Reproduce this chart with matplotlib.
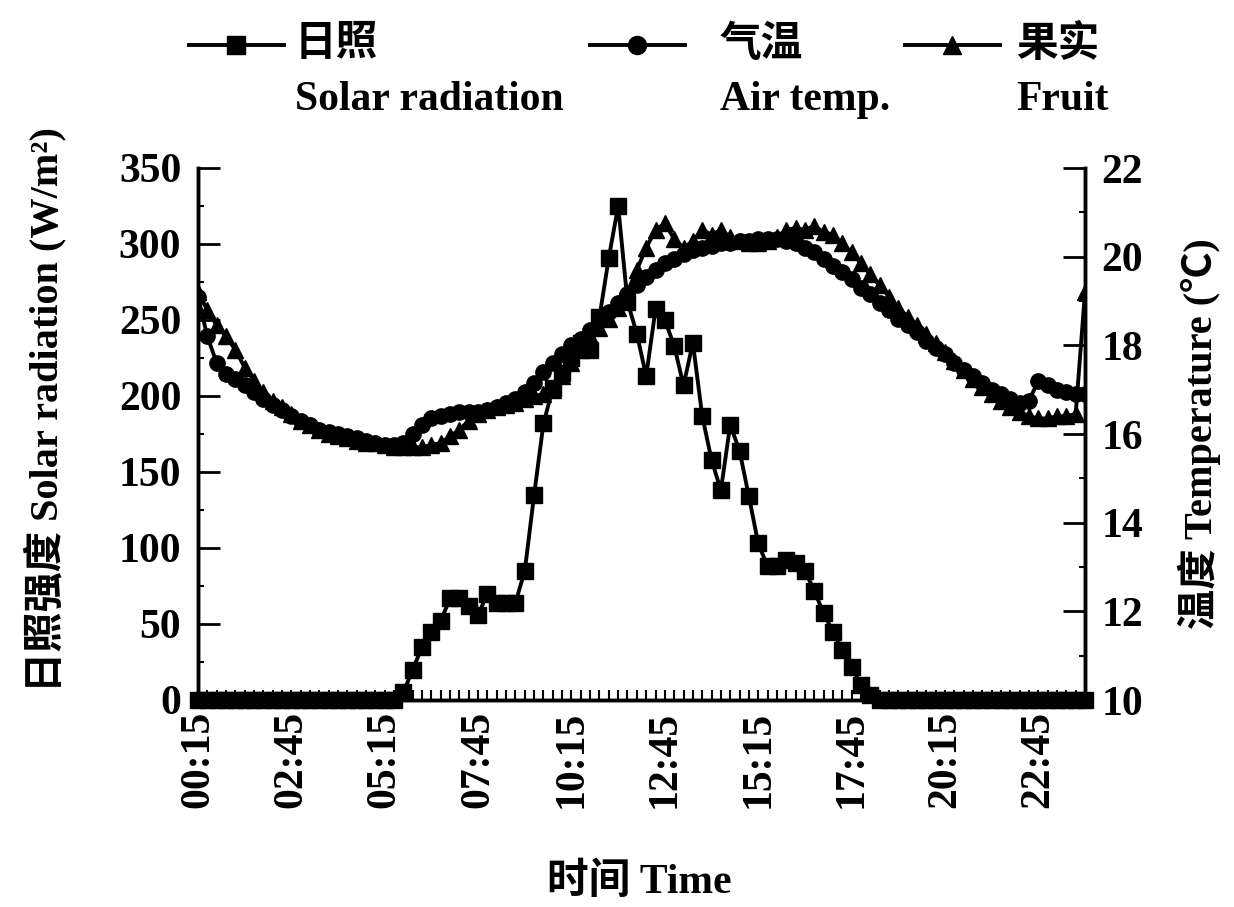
import matplotlib
matplotlib.use("Agg")
import matplotlib.pyplot as plt
from matplotlib.lines import Line2D
from matplotlib.ticker import MultipleLocator
import numpy as np

plt.rcParams['font.family'] = ['Liberation Serif', 'Noto Sans CJK SC']
plt.rcParams['font.weight'] = 'bold'
plt.rcParams['axes.labelweight'] = 'bold'

# 15-min readings from 00:15 to 24:00
tick_pos = [0, 10, 20, 30, 40, 50, 60, 70, 80, 90]
tick_labels = ["00:15", "02:45", "05:15", "07:45", "10:15",
               "12:45", "15:15", "17:45", "20:15", "22:45"]

solar = [0, 0, 0, 0, 0, 0, 0, 0, 0, 0,
         0, 0, 0, 0, 0, 0, 0, 0, 0, 0,
         0, 0, 5, 20, 35, 45, 52, 67, 67, 62,
         56, 70, 64, 64, 64, 85, 135, 182, 205, 215,
         225, 235, 230, 252, 291, 325, 262, 241, 213, 257,
         250, 233, 207, 235, 187, 158, 138, 181, 164, 134,
         103, 88, 88, 92, 90, 85, 72, 57, 45, 33,
         22, 10, 3, 0, 0, 0, 0, 0, 0, 0,
         0, 0, 0, 0, 0, 0, 0, 0, 0, 0,
         0, 0, 0, 0, 0, 0]

air_temp = [19.1, 18.2, 17.6, 17.35, 17.25, 17.1, 16.95, 16.8, 16.65, 16.55,
            16.4, 16.3, 16.2, 16.1, 16.05, 16.0, 15.95, 15.9, 15.85, 15.8,
            15.75, 15.75, 15.8, 16.0, 16.2, 16.35, 16.4, 16.45, 16.5, 16.5,
            16.5, 16.55, 16.6, 16.7, 16.8, 16.95, 17.15, 17.4, 17.6, 17.8,
            18.0, 18.15, 18.35, 18.55, 18.75, 18.95, 19.15, 19.35, 19.55, 19.7,
            19.85, 19.95, 20.05, 20.15, 20.2, 20.25, 20.3, 20.3, 20.35, 20.35,
            20.4, 20.4, 20.4, 20.35, 20.3, 20.2, 20.1, 19.95, 19.8, 19.65,
            19.5, 19.3, 19.15, 18.95, 18.8, 18.6, 18.45, 18.3, 18.1, 17.95,
            17.8, 17.6, 17.45, 17.3, 17.15, 17.0, 16.9, 16.8, 16.7, 16.75,
            17.2, 17.1, 17.0, 16.95, 16.9, 16.9]

fruit_temp = [19.2, 18.8, 18.45, 18.2, 17.9, 17.5, 17.2, 16.95, 16.75, 16.6,
              16.45, 16.3, 16.2, 16.1, 16.0, 15.95, 15.9, 15.85, 15.8, 15.8,
              15.75, 15.7, 15.7, 15.7, 15.7, 15.75, 15.8, 15.95, 16.1, 16.3,
              16.45, 16.55, 16.6, 16.65, 16.7, 16.8, 16.85, 16.9, 17.0, 17.3,
              17.6, 17.9, 18.2, 18.4, 18.6, 18.85, 19.2, 19.7, 20.2, 20.6,
              20.75, 20.4, 20.2, 20.35, 20.6, 20.5, 20.6, 20.45, 20.35, 20.3,
              20.3, 20.35, 20.45, 20.6, 20.65, 20.6, 20.7, 20.55, 20.5, 20.3,
              20.1, 19.85, 19.6, 19.35, 19.1, 18.85, 18.65, 18.45, 18.25, 18.05,
              17.85, 17.65, 17.45, 17.25, 17.05, 16.9, 16.75, 16.6, 16.5, 16.4,
              16.35, 16.35, 16.4, 16.4, 16.45, 19.2]

FS = 30
LW = 2.8
W, H = 1234, 907
fig = plt.figure(figsize=(W / 100, H / 100), dpi=100)
ax = fig.add_axes([198 / W, 1 - 700 / H, (1085 - 198) / W, (700 - 168) / H])
x = np.arange(len(solar))

ax.plot(x, solar, color='k', lw=LW, marker='s', ms=11, clip_on=False, zorder=3)
ax.set_xlim(0, len(solar) - 1)
ax.set_ylim(0, 350)
ax.yaxis.set_major_locator(MultipleLocator(50))
ax.yaxis.set_minor_locator(MultipleLocator(25))
ax.set_xticks(tick_pos)
ax.set_xticklabels(tick_labels, rotation=90, fontsize=FS)
ax.xaxis.set_minor_locator(MultipleLocator(1))
ax.tick_params(axis='x', which='both', direction='in', length=7, width=1.5, pad=8)
ax.tick_params(axis='y', which='major', direction='in', length=16, width=2, pad=12, labelsize=FS)
ax.tick_params(axis='y', which='minor', direction='in', length=4, width=1.5)

ax2 = ax.twinx()
ax2.plot(x, air_temp, color='k', lw=LW, marker='o', ms=11, zorder=3)
ax2.plot(x, fruit_temp, color='k', lw=LW, marker='^', ms=12, zorder=3)
ax2.set_ylim(10, 22)
ax2.yaxis.set_major_locator(MultipleLocator(2))
ax2.yaxis.set_minor_locator(MultipleLocator(1))
ax2.tick_params(axis='y', which='major', direction='in', length=16, width=2, pad=12, labelsize=FS)
ax2.tick_params(axis='y', which='minor', direction='in', length=4, width=1.5)

for a in (ax, ax2):
    a.spines['top'].set_visible(False)
    for s in ('left', 'right', 'bottom'):
        a.spines[s].set_linewidth(2.5)

ax.set_ylabel("日照强度 Solar radiation (W/m²)", fontsize=29, fontweight='bold')
ax.yaxis.set_label_coords(-0.148, 0.545)
ax2.set_ylabel("温度 Temperature (℃)", fontsize=29, fontweight='bold', rotation=90)
ax2.yaxis.set_label_coords(1.105, 0.5)
ax.set_xlabel("时间 Time", fontsize=FS, fontweight='bold')
ax.xaxis.set_label_coords(0.498, -0.305)

# legend drawn by hand: handle, Chinese name, English name below
legend_items = [("s", "日照", "Solar radiation", 189, 295),
                ("o", "气温", "Air temp.", 590, 720),
                ("^", "果实", "Fruit", 905, 1016)]
y1, y2 = 1 - 45 / H, 1 - 100 / H
for mk, cn, en, hx, tx in legend_items:
    fig.add_artist(Line2D([hx / W, (hx + 47) / W, (hx + 95) / W], [y1, y1, y1],
                          transform=fig.transFigure, color='k', lw=LW,
                          marker=mk, ms=13, markevery=[1]))
    fig.text(tx / W, y1, cn, fontsize=FS, va='center', ha='left')
    fig.text(tx / W, y2, en, fontsize=FS, va='center', ha='left')

fig.savefig("out.png", dpi=100)
